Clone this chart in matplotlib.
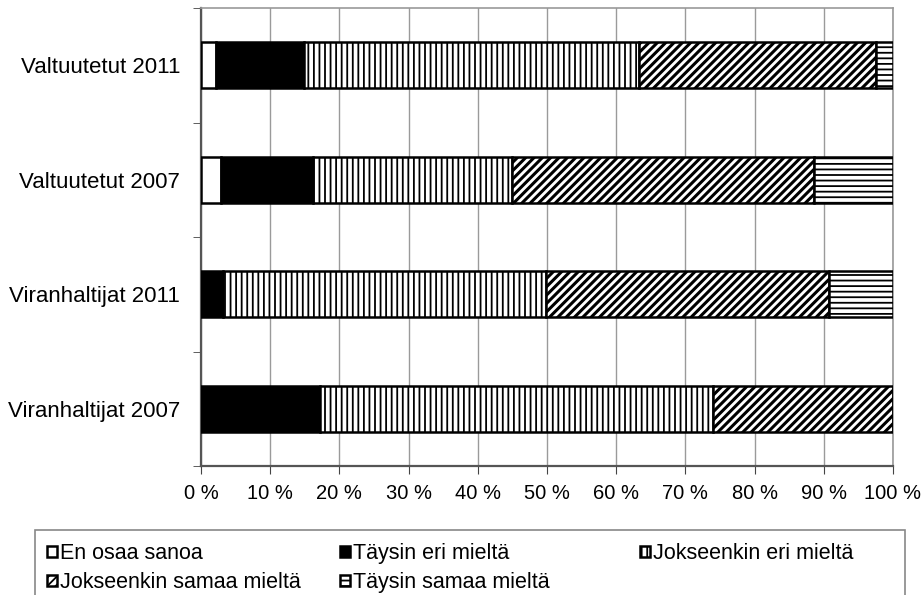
import matplotlib.pyplot as plt
import numpy as np
from matplotlib.patches import Rectangle

plt.rcParams["font.family"] = ["Liberation Sans", "DejaVu Sans"]
plt.rcParams["hatch.linewidth"] = 1.3

groups = ["Valtuutetut 2011", "Valtuutetut 2007", "Viranhaltijat 2011", "Viranhaltijat 2007"]
answers = ["En osaa sanoa", "Täysin eri mieltä", "Jokseenkin eri mieltä",
           "Jokseenkin samaa mieltä", "Täysin samaa mieltä"]

# percentage shares per group, in the order of `answers`
shares = {
    "Valtuutetut 2011":   [2.2, 12.7, 48.4, 34.2, 2.5],
    "Valtuutetut 2007":   [2.9, 13.3, 28.8, 43.6, 11.4],
    "Viranhaltijat 2011": [0.0, 3.2, 46.7, 40.8, 9.3],
    "Viranhaltijat 2007": [0.0, 17.2, 56.8, 26.0, 0.0],
}

fills = ["white", "black", "white", "white", "white"]
hatches = [None, None, "|||", "////", "---"]
hatch_lw = [1.3, 1.3, 1.3, 2.2, 1.3]

fig = plt.figure(figsize=(9.24, 5.95), dpi=100)
ax = fig.add_axes([201 / 924, 1 - 466 / 595, 692 / 924, 458 / 595])

ypos = np.arange(len(groups))
left = np.zeros(len(groups))
for i, name in enumerate(answers):
    vals = np.array([shares[g][i] for g in groups])
    bars = ax.barh(ypos, vals, left=left, height=0.4, color=fills[i],
                   edgecolor="black", linewidth=1.8, hatch=hatches[i],
                   label=name, zorder=3)
    for b in bars:
        if hasattr(b, "set_hatch_linewidth"):
            b.set_hatch_linewidth(hatch_lw[i])
    left += vals

ax.set_xlim(0, 100)
ax.set_ylim(3.5, -0.5)
ax.set_xticks(np.arange(0, 101, 10))
ax.set_xticklabels([f"{v} %" for v in range(0, 101, 10)], fontsize=14.5)
ax.set_yticks(ypos)
ax.set_yticklabels(groups, fontsize=16)
ax.tick_params(axis="y", which="major", length=0, pad=15)
ax.set_yticks(np.arange(-0.5, 4, 1), minor=True)
ax.tick_params(axis="y", which="minor", length=6, color="#444444")
ax.tick_params(axis="x", length=6, color="#444444", pad=7)
ax.grid(axis="x", color="#9a9a9a", linewidth=1.0, zorder=0)

for side in ["left", "bottom"]:
    ax.spines[side].set_color("#555555")
    ax.spines[side].set_linewidth(1.6)
for side in ["top", "right"]:
    ax.spines[side].set_color("#999999")
    ax.spines[side].set_linewidth(1.2)

# legend box laid out on a fixed three-column grid
W, H = 924, 595
fig.add_artist(Rectangle((35 / W, -0.05), 870 / W, (595 - 530) / H + 0.05,
                         transform=fig.transFigure, facecolor="white",
                         edgecolor="#888888", linewidth=1.2))
col_x = [47, 340, 640, 47, 340]
row_base = [559, 559, 559, 588, 588]
for i, name in enumerate(answers):
    x0, yb = col_x[i], row_base[i]
    sq = Rectangle((x0 / W, 1 - (yb - 2) / H), 10 / W, 11 / H,
                   transform=fig.transFigure, facecolor=fills[i],
                   edgecolor="black", linewidth=1.8, hatch=hatches[i])
    fig.add_artist(sq)
    fig.text((x0 + 13) / W, 1 - yb / H, name, fontsize=15.5,
             ha="left", va="baseline")

fig.savefig("out.png", dpi=100)
